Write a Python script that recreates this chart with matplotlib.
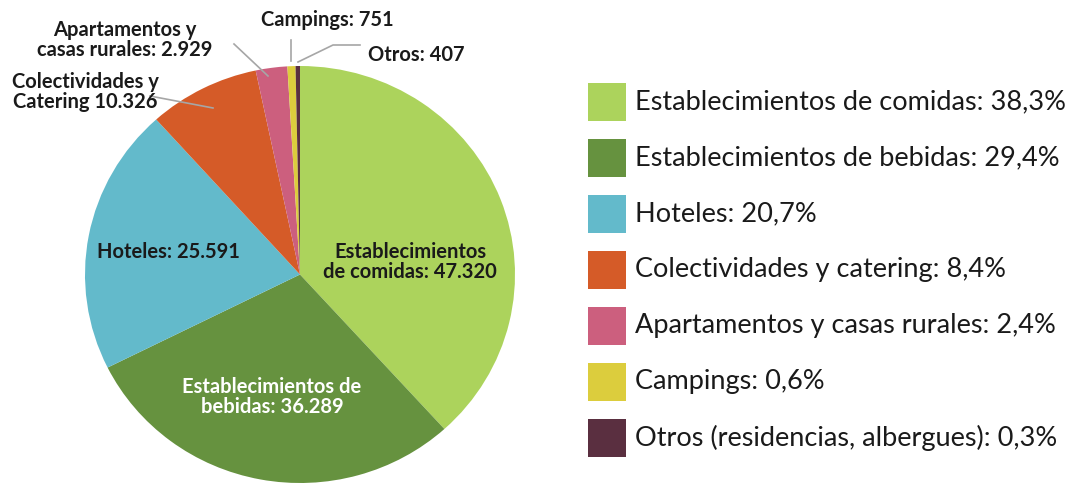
import matplotlib.pyplot as plt
from matplotlib.patches import Rectangle

# data
categorias = ['Establecimientos de comidas', 'Establecimientos de bebidas', 'Hoteles',
              'Colectividades y catering', 'Apartamentos y casas rurales', 'Campings',
              'Otros (residencias, albergues)']
valores = [47320, 36289, 25591, 10326, 2929, 751, 407]
porcentajes = ['38,3%', '29,4%', '20,7%', '8,4%', '2,4%', '0,6%', '0,3%']
etiquetas = ['Establecimientos\nde comidas: 47.320', 'Establecimientos de\nbebidas: 36.289',
             'Hoteles: 25.591', 'Colectividades y\nCatering 10.326',
             'Apartamentos y\ncasas rurales: 2.929', 'Campings: 751', 'Otros: 407']
colores = ['#acd35c', '#66923f', '#63bacb', '#d55b28', '#cc5f7e', '#dccd3d', '#5a2f40']

W, H = 1066, 484
fig = plt.figure(figsize=(W / 100, H / 100), dpi=100)

# pie axes (slightly wider than tall, like the original)
axp = fig.add_axes([85 / W, (H - 483) / H, 430 / W, 417 / H])
axp.pie(valores, colors=colores, startangle=90, counterclock=False,
        radius=1, wedgeprops=dict(linewidth=0))
axp.set_xlim(-1, 1)
axp.set_ylim(-1, 1)
axp.set_aspect('auto')
axp.axis('off')

# overlay axes in pixel units for labels and legend
ax = fig.add_axes([0, 0, 1, 1])
ax.set_xlim(0, W)
ax.set_ylim(H, 0)
ax.axis('off')

lab_font = dict(family='Lato', fontweight='bold', fontsize=14.5, linespacing=1.05)
negro = '#1a1a1a'

# labels inside the pie
ax.text(410, 262, etiquetas[0], ha='center', va='center', color=negro, **lab_font)
ax.text(272, 397, etiquetas[1], ha='center', va='center', color='white', **lab_font)
ax.text(168, 252, etiquetas[2], ha='center', va='center', color=negro, **lab_font)

# outside labels with leader lines
gris = '#a6a6a6'
ax.text(85, 92, etiquetas[3], ha='center', va='center', color=negro, **lab_font)
ax.plot([150, 213], [96, 108], color=gris, lw=1.2)

ax.text(125, 40, etiquetas[4], ha='center', va='center', color=negro, **lab_font)
ax.plot([234, 268], [44, 76], color=gris, lw=1.2)

ax.text(327, 20, etiquetas[5], ha='center', va='center', color=negro, **lab_font)
ax.plot([291, 291], [40, 61], color=gris, lw=1.2)

ax.text(368, 55, etiquetas[6], ha='left', va='center', color=negro, **lab_font)
ax.plot([298, 333, 360], [62, 45, 45], color=gris, lw=1.2)

# legend
for i, (cat, pct, col) in enumerate(zip(categorias, porcentajes, colores)):
    y = 83 + i * 56
    ax.add_patch(Rectangle((588, y), 38, 38, facecolor=col, edgecolor='none'))
    ax.text(635, y + 19, f'{cat}: {pct}', ha='left', va='center',
            family='Lato', fontsize=19.5, color=negro)

fig.savefig('out.png', dpi=100)
